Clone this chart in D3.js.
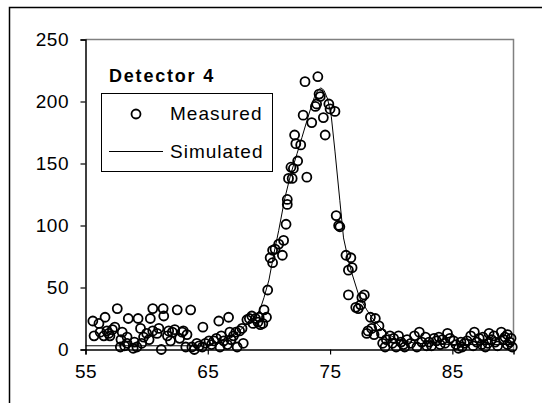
<!DOCTYPE html>
<html><head><meta charset="utf-8">
<script src="https://cdn.jsdelivr.net/npm/d3@7"></script>
<style>body{margin:0;background:#fff}svg{display:block}text{font-family:Arial,"Liberation Sans",sans-serif}</style>
</head><body>
<script>
const measuredX = [55.6,55.7,56.1,56.2,56.5,56.6,56.75,57.0,57.4,57.6,57.85,58.0,58.4,58.4,58.5,58.9,59.2,59.3,59.5,59.75,60.0,60.3,60.5,60.5,60.85,61.2,61.35,61.4,61.7,61.95,62.1,62.3,62.5,62.9,63.0,63.2,63.6,63.7,63.9,64.1,64.55,64.6,64.8,65.1,65.5,65.9,66.0,66.3,66.6,66.7,66.8,67.1,67.4,67.6,67.9,68.4,68.6,68.9,69.1,69.2,69.3,69.5,69.6,69.8,69.9,70.1,70.3,70.3,70.5,70.8,71.1,71.2,71.4,71.5,71.5,71.6,71.9,72.0,71.8,72.35,72.1,72.6,72.2,73.1,72.8,73.5,73.8,73.9,72.95,74.0,74.2,74.1,74.45,74.6,74.9,75.0,75.4,75.5,75.7,75.8,76.3,76.7,76.5,76.8,76.5,77.6,77.8,77.1,77.3,77.5,78.3,78.7,79.0,78.4,78.0,78.1,78.6,79.2,79.3,79.5,79.6,79.9,80.1,80.4,80.6,80.8,81.1,81.3,81.6,81.9,82.1,82.3,82.5,82.8,83.1,83.3,83.5,83.7,84.0,84.2,84.4,84.6,84.8,85.1,85.3,85.5,85.8,86.0,86.2,86.5,86.7,86.8,87.0,87.2,87.5,87.7,87.9,88.0,88.2,88.5,88.7,89.0,89.2,89.3,89.5,89.7,89.9,89.8,56.9,57.2,57.9,58.2,59.0,59.6,60.2,61.0,61.8,62.7,63.3,64.3,65.3,65.7,66.1,66.9,67.3,67.8,68.2,68.7,80.2,81.0,82.9,83.9,85.7,87.4,88.4,89.5];
const measuredY = [23,11,21,14,11,26,15,11,18,33,2,14,10,5,25,1,2,25,17,10,13,25,33,15,13,0,33,27,11,7,14,16,32,14,15,2,32,2,0,5,2,18,5,7,7,23,2,7,4,26,14,11,2,15,5,25,27,25,22,26,20,21,32,26,48,74,80,70,81,85,76,88,101,117,121,138,138,146,147,152,173,165,166,139,189,183,196,198,216,220,204,206,187,173,198,194,192,108,100,99,76,74,64,66,44,42,44,34,33,36,26,25,19,17,13,15,12,13,5,2,8,11,5,2,11,6,2,8,5,11,2,14,6,10,6,3,9,7,4,8,5,13,9,7,4,1,2,5,7,11,3,14,6,9,10,2,5,13,8,6,3,14,8,10,4,6,2,9,13,16,8,3,6,5,8,17,15,9,12,3,4,9,11,8,14,17,24,21,9,4,3,10,6,4,11,12];
const simX = [55,58,61,64,65,66,67,67.5,68,68.5,69,69.3,69.6,70.0,70.4,70.8,71.3,71.8,72.3,72.7,73.0,73.4,73.7,74.0,74.25,74.5,74.8,75.1,75.4,75.8,76.1,76.5,76.8,77.4,78.0,78.4,79.0,79.5,80.5,82,85,90];
const simY = [3,3,3,3,4,6,10,14,19,24,28,33,42,56,77,96,122,142,158,171,181,194,203,209,211,209,202,188,160,120,90,72,61,42,32,26,19,14,8,5,4,4];
const xTicks = [55,65,75,85];
const yTicks = [0,50,100,150,200,250];
const legendTitle = "Detector 4";
const seriesNames = ["Measured","Simulated"];

const W=542,H=403;
const svg=d3.select("body").append("svg").attr("width",W).attr("height",H);
const L=85.5,R=513.5,T=39.5,B=349.5;
const x=d3.scaleLinear().domain([55,90]).range([L,R]);
const y=d3.scaleLinear().domain([0,250]).range([B,T]);

svg.append("rect").attr("x",9.5).attr("y",7.5).attr("width",540).attr("height",400)
  .attr("fill","none").attr("stroke","#000").attr("stroke-width",1.5);
svg.append("path").attr("d",`M${L},${T}H${R}V${B}`).attr("fill","none").attr("stroke","#808080").attr("stroke-width",1.5);

const fs=19;
const yAxis=svg.append("g").attr("transform",`translate(${L},0)`)
  .call(d3.axisLeft(y).tickValues(yTicks).tickSize(5).tickPadding(12));
const xAxis=svg.append("g").attr("transform",`translate(0,${B})`)
  .call(d3.axisBottom(x).tickValues(xTicks).tickSize(5).tickPadding(10));
[yAxis,xAxis].forEach(g=>{
  g.select(".domain").attr("stroke","#000").attr("stroke-width",1.5);
  g.selectAll(".tick line").attr("stroke","#000").attr("stroke-width",1.2);
  g.selectAll("text").attr("font-size",fs).attr("fill","#000").style("letter-spacing","0.5px")
   .attr("font-family","Arial, 'Liberation Sans', sans-serif");
});
yAxis.selectAll("text").attr("dx","0.5");

svg.append("path").datum(simX.map((v,i)=>[v,simY[i]]))
  .attr("d",d3.line().x(d=>x(d[0])).y(d=>y(d[1])))
  .attr("fill","none").attr("stroke","#000").attr("stroke-width",1);

svg.append("g").selectAll("circle").data(measuredX.map((v,i)=>[v,measuredY[i]])).join("circle")
  .attr("cx",d=>x(d[0])).attr("cy",d=>y(d[1])).attr("r",4.5)
  .attr("fill","none").attr("stroke","#000").attr("stroke-width",1.8);

svg.append("text").attr("x",109).attr("y",82).attr("font-size",18).attr("font-weight","bold")
  .style("letter-spacing","1.8px").text(legendTitle);
svg.append("rect").attr("x",101.5).attr("y",93.5).attr("width",171).attr("height",78)
  .attr("fill","#fff").attr("stroke","#000").attr("stroke-width",1);
svg.append("circle").attr("cx",136).attr("cy",114).attr("r",4.5).attr("fill","none").attr("stroke","#000").attr("stroke-width",1.8);
svg.append("line").attr("x1",109).attr("x2",163).attr("y1",151.5).attr("y2",151.5).attr("stroke","#000").attr("stroke-width",1);
svg.append("text").attr("x",170).attr("y",120).attr("font-size",fs).style("letter-spacing","1px").text(seriesNames[0]);
svg.append("text").attr("x",170).attr("y",158).attr("font-size",fs).style("letter-spacing","1px").text(seriesNames[1]);
</script>
</body></html>
